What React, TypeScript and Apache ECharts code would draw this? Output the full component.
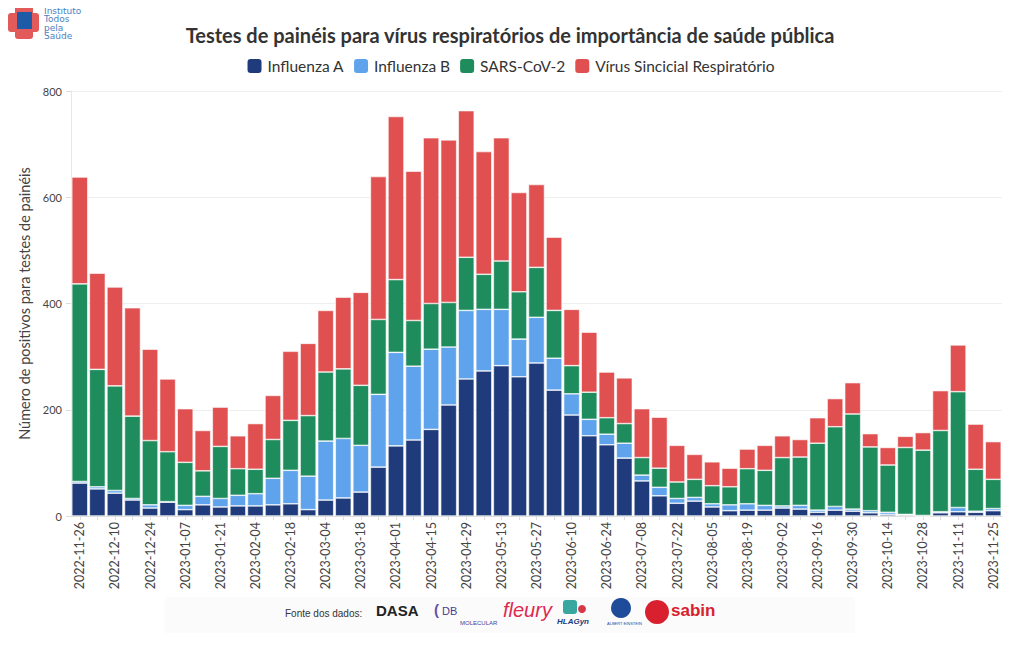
import React, { useEffect, useRef } from "react";
import * as echarts from "echarts";

const weeks: string[] = [
  "2022-11-26","2022-12-03","2022-12-10","2022-12-17","2022-12-24","2022-12-31",
  "2023-01-07","2023-01-14","2023-01-21","2023-01-28","2023-02-04","2023-02-11",
  "2023-02-18","2023-02-25","2023-03-04","2023-03-11","2023-03-18","2023-03-25",
  "2023-04-01","2023-04-08","2023-04-15","2023-04-22","2023-04-29","2023-05-06",
  "2023-05-13","2023-05-20","2023-05-27","2023-06-03","2023-06-10","2023-06-17",
  "2023-06-24","2023-07-01","2023-07-08","2023-07-15","2023-07-22","2023-07-29",
  "2023-08-05","2023-08-12","2023-08-19","2023-08-26","2023-09-02","2023-09-09",
  "2023-09-16","2023-09-23","2023-09-30","2023-10-07","2023-10-14","2023-10-21",
  "2023-10-28","2023-11-04","2023-11-11","2023-11-18","2023-11-25",
];

const influenzaA: number[] = [
  62, 51, 43, 30, 15, 26, 12, 21, 17, 19, 19, 21, 23, 12, 30, 34, 45, 92,
  132, 143, 163, 209, 258, 273, 283, 262, 288, 237, 190, 151, 134, 109, 66, 38,
  24, 28, 17, 10, 11, 11, 15, 13, 7, 11, 9, 6, 3, 2, 0, 6, 8, 7, 10,
];

const influenzaB: number[] = [
  3, 4, 5, 3, 6, 1, 8, 16, 16, 20, 23, 50, 63, 63, 111, 112, 88, 137,
  176, 139, 151, 109, 129, 116, 106, 71, 86, 60, 40, 31, 20, 28, 11, 16,
  9, 7, 6, 11, 12, 9, 4, 7, 4, 7, 4, 4, 4, 1, 1, 2, 8, 2, 4,
];

const sarsCov2: number[] = [
  372, 221, 197, 155, 121, 94, 81, 48, 98, 50, 46, 73, 94, 114, 130, 131, 113, 141,
  137, 86, 86, 84, 100, 66, 91, 89, 94, 90, 53, 51, 31, 37, 33, 36,
  31, 34, 34, 34, 66, 66, 91, 91, 126, 150, 179, 120, 89, 126, 123, 153, 218, 79, 55,
];

const vsr: number[] = [
  201, 181, 186, 204, 172, 137, 101, 76, 74, 62, 86, 83, 130, 136, 116, 135, 175, 269,
  307, 281, 312, 306, 276, 231, 232, 187, 156, 138, 106, 113, 86, 86, 92, 96,
  69, 47, 45, 35, 37, 47, 41, 33, 48, 53, 59, 25, 33, 21, 33, 75, 88, 85, 71,
];

const seriesNames: string[] = [
  "Influenza A",
  "Influenza B",
  "SARS-CoV-2",
  "Vírus Sincicial Respiratório",
];
const seriesColors: string[] = ["#1f3b7b", "#5fa3ec", "#1e8c5c", "#e05050"];
const yTicks = { min: 0, max: 800, interval: 200 };

const FONT = "Lato, 'Noto Sans', sans-serif";
const LOGO_FONT = "9px 'DejaVu Sans', sans-serif";

export default function App() {
  const ref = useRef<HTMLDivElement>(null);

  useEffect(() => {
    if (!ref.current) return;
    const chart = echarts.init(ref.current, null, { renderer: "svg" });
    const data = [influenzaA, influenzaB, sarsCov2, vsr];

    const option: any = {
      animation: false,
      backgroundColor: "#ffffff",
      textStyle: { fontFamily: FONT },
      title: {
        text: "Testes de painéis para vírus respiratórios de importância de saúde pública",
        left: "center",
        top: 20,
        textStyle: {
          fontFamily: FONT,
          fontSize: 20,
          fontWeight: "bold",
          color: "#333333",
        },
      },
      legend: {
        top: 52,
        left: "center",
        icon: "roundRect",
        itemWidth: 16,
        itemHeight: 16,
        itemGap: 8,
        textStyle: { fontFamily: FONT, fontSize: 15.5, color: "#333333" },
        data: seriesNames,
      },
      grid: { left: 71, right: 18, top: 91, bottom: 134, containLabel: false },
      xAxis: {
        type: "category",
        data: weeks,
        axisLine: { show: true, lineStyle: { color: "#dddddd" } },
        axisTick: { show: true, interval: 0, alignWithLabel: true, length: 4, lineStyle: { color: "#dddddd" } },
        axisLabel: {
          interval: 1,
          rotate: 90,
          fontFamily: FONT,
          fontSize: 12.5,
          color: "#444444",
          margin: 6,
        },
      },
      yAxis: {
        type: "value",
        min: yTicks.min,
        max: yTicks.max,
        interval: yTicks.interval,
        name: "Número de positivos para testes de painéis",
        nameLocation: "middle",
        nameGap: 36,
        nameTextStyle: { fontFamily: FONT, fontSize: 14.5, color: "#444444" },
        axisLine: { show: true, lineStyle: { color: "#e8e8e8" } },
        axisTick: { show: true, length: 5, lineStyle: { color: "#dddddd" } },
        axisLabel: { fontFamily: FONT, fontSize: 11, color: "#444444", margin: 9 },
        splitLine: { show: true, lineStyle: { color: "#eeeeee" } },
      },
      series: seriesNames.map((name, i) => ({
        name,
        type: "bar",
        stack: "total",
        barCategoryGap: "9%",
        data: data[i],
        itemStyle: { color: seriesColors[i], borderColor: "#ffffff", borderWidth: 0.6 },
        emphasis: { disabled: true },
      })),
      graphic: [
        // logo top-left
        { type: "rect", shape: { x: 8, y: 13, width: 31, height: 19, r: 3 }, style: { fill: "#e35a5a" } },
        { type: "rect", shape: { x: 15, y: 6, width: 18, height: 33, r: 3 }, style: { fill: "#e35a5a" } },
        { type: "rect", shape: { x: 17, y: 12, width: 15, height: 17 }, style: { fill: "#1d5aa8" } },
        { type: "text", x: 44, y: 6, style: { text: "Instituto", font: LOGO_FONT, fill: "#4a7fc1" } },
        { type: "text", x: 44, y: 14, style: { text: "Todos", font: LOGO_FONT, fill: "#4a7fc1" } },
        { type: "text", x: 44, y: 23, style: { text: "pela", font: LOGO_FONT, fill: "#4a7fc1" } },
        { type: "text", x: 44, y: 31, style: { text: "Saúde", font: LOGO_FONT, fill: "#4a7fc1" } },
        // footer
        { type: "rect", shape: { x: 165, y: 597, width: 690, height: 36 }, style: { fill: "#fbfbfb" } },
        { type: "text", x: 285, y: 608, style: { text: "Fonte dos dados:", font: "10px 'Liberation Sans', Arial, sans-serif", fill: "#333333" } },
        { type: "text", x: 376, y: 603, style: { text: "DASA", font: "bold 15px 'Liberation Sans', Arial, sans-serif", fill: "#222222" } },
        { type: "text", x: 434, y: 602, style: { text: "(", font: "bold 15px 'Liberation Sans', Arial, sans-serif", fill: "#6a4fb0" } },
        { type: "text", x: 442, y: 605, style: { text: "DB", font: "11px 'Liberation Sans', Arial, sans-serif", fill: "#4a3d8f" } },
        { type: "text", x: 460, y: 620, style: { text: "MOLECULAR", font: "6px 'Liberation Sans', Arial, sans-serif", fill: "#4a3d8f" } },
        { type: "text", x: 503, y: 600, style: { text: "fleury", font: "italic 20px 'Liberation Sans', Arial, sans-serif", fill: "#e0284f" } },
        { type: "rect", shape: { x: 563, y: 600, width: 14, height: 14, r: 3 }, style: { fill: "#3aa6a0" } },
        { type: "circle", shape: { cx: 582, cy: 609, r: 4 }, style: { fill: "#d6384a" } },
        { type: "text", x: 557, y: 617, style: { text: "HLAGyn", font: "bold italic 8px 'Liberation Sans', Arial, sans-serif", fill: "#1f3b7b" } },
        { type: "circle", shape: { cx: 621, cy: 608, r: 10 }, style: { fill: "#1f4b9b" } },
        { type: "text", x: 607, y: 621, style: { text: "ALBERT EINSTEIN", font: "4px 'Liberation Sans', Arial, sans-serif", fill: "#1f4b9b" } },
        { type: "circle", shape: { cx: 657, cy: 612, r: 12 }, style: { fill: "#d8202e" } },
        { type: "text", x: 671, y: 602, style: { text: "sabin", font: "bold 17px 'Liberation Sans', Arial, sans-serif", fill: "#d8202e" } },
      ],
    };

    chart.setOption(option);
    return () => chart.dispose();
  }, []);

  return <div ref={ref} style={{ width: 1020, height: 650, margin: -8 }} />;
}
